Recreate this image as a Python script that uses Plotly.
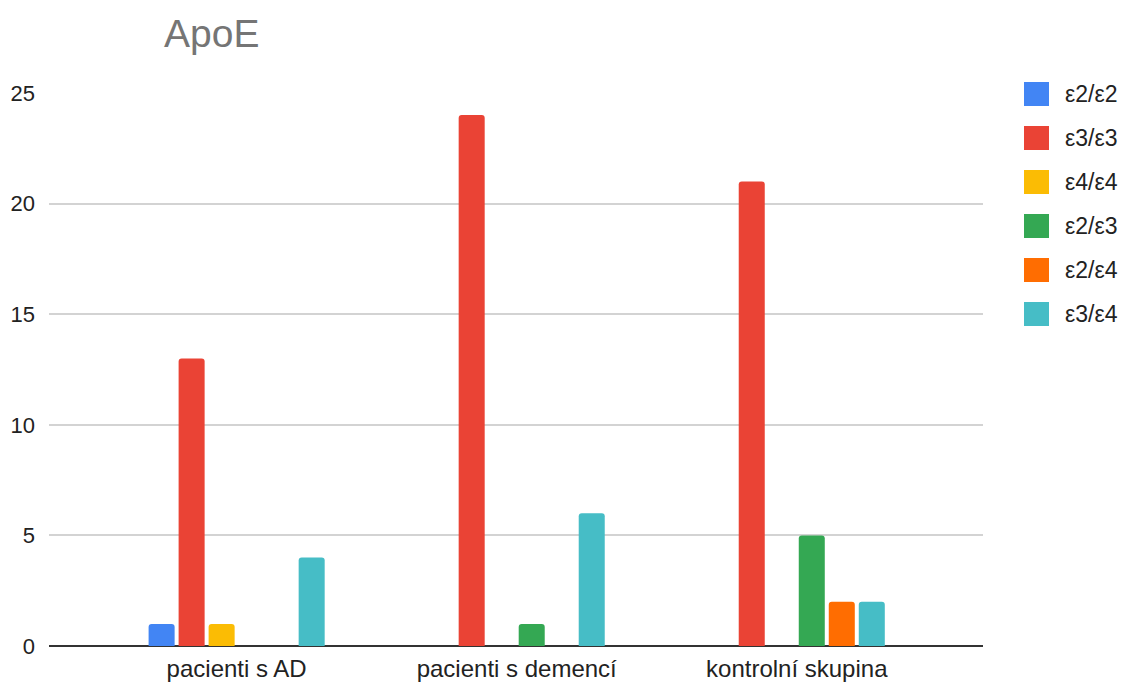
import plotly.graph_objects as go

# ApoE genotype counts per group
categories = ["pacienti s AD", "pacienti s demencí", "kontrolní skupina"]
genotypes = ["ε2/ε2", "ε3/ε3", "ε4/ε4", "ε2/ε3", "ε2/ε4", "ε3/ε4"]
e2e2 = [1, 0, 0]
e3e3 = [13, 24, 21]
e4e4 = [1, 0, 0]
e2e3 = [0, 1, 5]
e2e4 = [0, 0, 2]
e3e4 = [4, 6, 2]
colors = ["#4285F4", "#EA4335", "#FBBC04", "#34A853", "#FF6D01", "#46BDC6"]
y_ticks = [0, 5, 10, 15, 20, 25]

series = [e2e2, e3e3, e4e4, e2e3, e2e4, e3e4]

W, H = 1122, 682
ML, MR, MT, MB = 49, 139, 93, 36
PW, PH = W - ML - MR, H - MT - MB

fig = go.Figure()
for name, vals, col in zip(genotypes, series, colors):
    fig.add_trace(go.Bar(
        x=categories, y=vals, name=name,
        marker=dict(color=col, line=dict(width=0), cornerradius=3),
        showlegend=False,
    ))

# Legend drawn as rounded squares with labels on the right
def px_x(px):
    return (px - ML) / PW

def px_y(py):
    return (H - MB - py) / PH

shapes = []
annotations = []
for i, (name, col) in enumerate(zip(genotypes, colors)):
    cy = 94 + i * 44
    shapes.append(dict(
        type="rect", xref="paper", yref="paper",
        x0=px_x(1024), x1=px_x(1049), y0=px_y(cy + 12), y1=px_y(cy - 12),
        fillcolor=col, line=dict(width=0), layer="above",
    ))
    annotations.append(dict(
        xref="paper", yref="paper", x=px_x(1063), y=px_y(cy),
        text=name, showarrow=False, xanchor="left", yanchor="middle",
        font=dict(size=23, color="#222222", family="Liberation Sans, Arial"),
    ))

fig.update_layout(
    width=W, height=H,
    margin=dict(l=ML, r=MR, t=MT, b=MB, pad=0),
    paper_bgcolor="white", plot_bgcolor="white",
    title=dict(
        text="ApoE", x=164 / W, xanchor="left", xref="container",
        y=1 - 33 / H, yanchor="middle", yref="container",
        font=dict(size=39, color="#757575", family="Liberation Sans, Arial"),
    ),
    font=dict(family="Liberation Sans, Arial", color="#222222"),
    bargap=0.357, bargroupgap=0.133, barmode="group",
    shapes=shapes, annotations=annotations,
)
fig.update_xaxes(
    range=[-0.67, 2.665], showgrid=False, showline=False, ticks="",
    tickfont=dict(size=24, color="#222222"), ticklabelstandoff=6,
    automargin=False,
)
fig.update_yaxes(
    range=[0, 25], tickvals=y_ticks, showgrid=True, gridcolor="#d3d3d3", gridwidth=2,
    zeroline=True, zerolinecolor="#333333", zerolinewidth=2,
    showline=False, ticks="", tickfont=dict(size=22, color="#222222"),
    ticklabelstandoff=13, automargin=False,
)

fig.write_html("out.html")
